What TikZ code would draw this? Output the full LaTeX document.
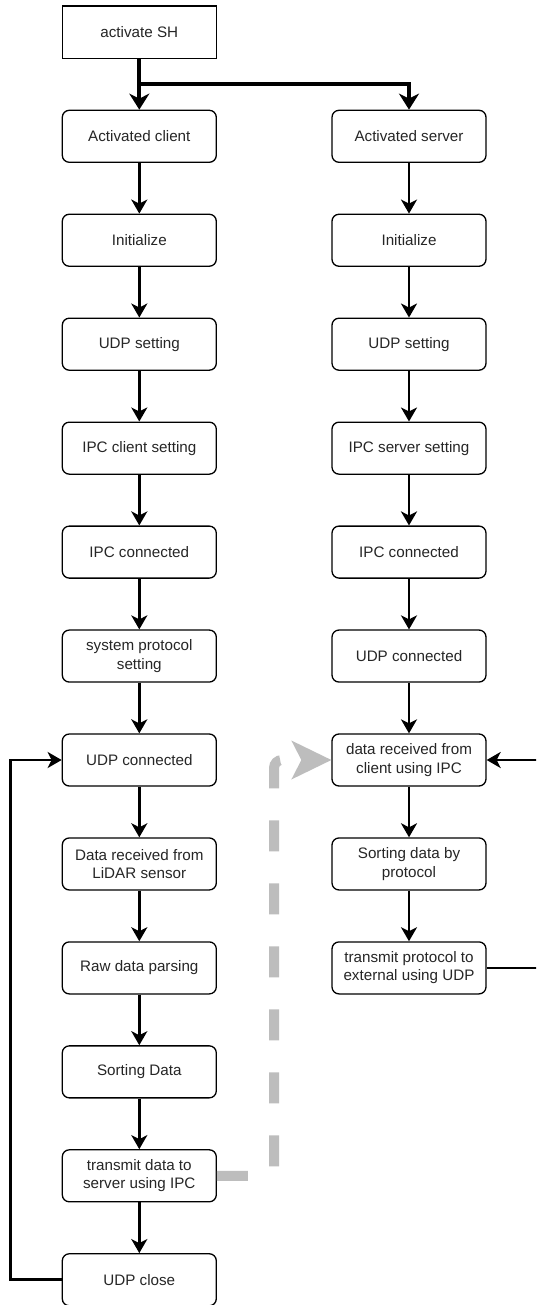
\documentclass[tikz,border=0pt]{standalone}
\usepackage{fontspec}
\setmainfont{Liberation Sans}
\usetikzlibrary{arrows.meta}
\definecolor{txt}{HTML}{262626}
\definecolor{ipcgray}{HTML}{BDBDBD}
\tikzset{
  stepbox/.style={draw=black, line width=1.3pt, rounded corners=7pt,
    minimum width=154pt, minimum height=52pt, inner sep=0pt, align=center,
    text=txt, font=\fontsize{15.2}{18.3}\selectfont},
  startbox/.style={stepbox, rounded corners=0pt, minimum height=52.7pt},
  flow/.style={line width=2.6pt, -{Stealth[length=14pt,width=16pt,inset=4pt]}},
  bigflow/.style={line width=4pt, -{Stealth[length=16pt,width=20pt,inset=5pt]}},
  loopline/.style={line width=2.8pt, -{Stealth[length=14pt,width=16pt,inset=4pt]}},
  ipclink/.style={draw=ipcgray, line width=10pt, line cap=butt,
    dash pattern=on 31pt off 32pt, rounded corners=8pt,
    -{Stealth[length=40pt,width=39pt,inset=10pt,color=ipcgray,line width=0pt]}},
}
\begin{document}
\begin{tikzpicture}[x=1pt, y=-1pt]
\clip (0,0) rectangle (536,1305);
\fill[white] (0,0) rectangle (536,1305);

% start node
\node[startbox] (sh) at (139.3,32.35) {activate SH};

% client column
\node[stepbox] (c1)  at (139.3,136.3)   {Activated client};
\node[stepbox] (c2)  at (139.3,240.25)  {Initialize};
\node[stepbox] (c3)  at (139.3,344.2)   {UDP setting};
\node[stepbox] (c4)  at (139.3,448.15)  {IPC client setting};
\node[stepbox] (c5)  at (139.3,552.1)   {IPC connected};
\node[stepbox] (c6)  at (139.3,656.05)  {system protocol\\setting};
\node[stepbox] (c7)  at (139.3,760)     {UDP connected};
\node[stepbox] (c8)  at (139.3,863.95)  {Data received from\\LiDAR sensor};
\node[stepbox] (c9)  at (139.3,967.9)   {Raw data parsing};
\node[stepbox] (c10) at (139.3,1071.85) {Sorting Data};
\node[stepbox] (c11) at (139.3,1175.8)  {transmit data to\\server using IPC};
\node[stepbox] (c12) at (139.3,1279.75) {UDP close};

% server column
\node[stepbox] (s1) at (409,136.3)  {Activated server};
\node[stepbox] (s2) at (409,240.25) {Initialize};
\node[stepbox] (s3) at (409,344.2)  {UDP setting};
\node[stepbox] (s4) at (409,448.15) {IPC server setting};
\node[stepbox] (s5) at (409,552.1)  {IPC connected};
\node[stepbox] (s6) at (409,656.05) {UDP connected};
\node[stepbox] (s7) at (409,760)    {data received from\\client using IPC};
\node[stepbox] (s8) at (409,863.95) {Sorting data by\\protocol};
\node[stepbox] (s9) at (409,967.9)  {transmit protocol to\\external using UDP};

% split from the start node
\coordinate (split) at (139.3,84);
\draw[bigflow] (sh) -- (c1);
\draw[bigflow] (sh.south) -- (split) -| (s1);

% sequential steps
\foreach \a/\b in {c1/c2,c2/c3,c3/c4,c4/c5,c5/c6,c6/c7,c7/c8,c8/c9,c9/c10,c10/c11,c11/c12,
                   s1/s2,s2/s3,s3/s4,s4/s5,s5/s6,s6/s7,s7/s8,s8/s9}
  \draw[flow] (\a) -- (\b);

% client loop back to UDP connected
\coordinate (lb) at (10.7,1279.75);
\coordinate (lt) at (10.7,760);
\draw[loopline] (c12.west) -- (lb) -- (lt) -- (c7.west);

% server loop back to data reception
\coordinate (rb) at (550,967.9);
\coordinate (rt) at (550,760);
\draw[loopline] (s9.east) -- (rb) -- (rt) -- (s7.east);

% IPC hand-over from client to server
\coordinate (ib) at (274,1175.8);
\coordinate (it) at (274,760);
\draw[ipclink] (c11.east) -- (ib) -- (it) -- (s7.west);
\end{tikzpicture}
\end{document}
